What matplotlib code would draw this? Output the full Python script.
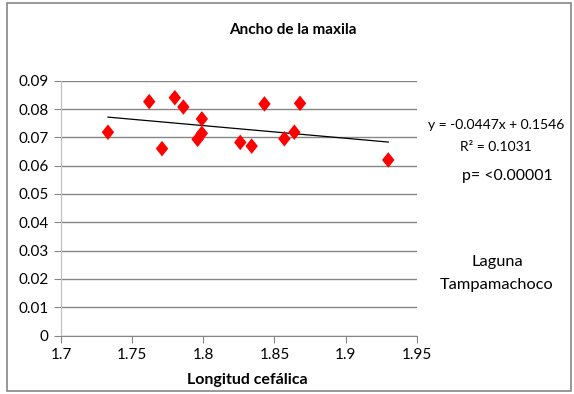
import numpy as np
import matplotlib
matplotlib.use("Agg")
import matplotlib.pyplot as plt
from matplotlib.path import Path
from matplotlib.patches import Rectangle

# Data
longitud = [1.733, 1.762, 1.771, 1.780, 1.786, 1.799, 1.799, 1.796,
            1.826, 1.834, 1.843, 1.857, 1.864, 1.868, 1.930]
ancho = [0.0718, 0.0826, 0.0660, 0.0840, 0.0807, 0.0765, 0.0714, 0.0693,
         0.0682, 0.0669, 0.0818, 0.0695, 0.0718, 0.0820, 0.0620]
slope = -0.0447
intercept = 0.1546
r2 = 0.1031

plt.rcParams['font.family'] = ['Lato', 'DejaVu Sans']

fig = plt.figure(figsize=(5.74, 3.94), dpi=100)
ax = fig.add_axes([61 / 574, 58.5 / 394, 355.7 / 574, 254.8 / 394])

# outer chart border
fig.patches.append(Rectangle((7 / 574, 3 / 394), 564 / 574, 388 / 394,
                             transform=fig.transFigure, fill=False,
                             edgecolor='#868686', linewidth=1.2))

diamond = Path([(0, 1), (0.8, 0), (0, -1), (-0.8, 0), (0, 1)],
               [Path.MOVETO, Path.LINETO, Path.LINETO, Path.LINETO, Path.CLOSEPOLY])

ax.scatter(longitud, ancho, marker=diamond, s=125, color='#ff0000',
           edgecolors='none', zorder=3)

xs = np.array([min(longitud), max(longitud)])
ax.plot(xs, slope * xs + intercept, color='black', linewidth=0.9, zorder=2)

ax.set_xlim(1.7, 1.95)
ax.set_ylim(0, 0.09)
ax.set_xticks([1.7, 1.75, 1.8, 1.85, 1.9, 1.95])
ax.set_xticklabels(['1.7', '1.75', '1.8', '1.85', '1.9', '1.95'])
ax.set_yticks(np.arange(0, 0.091, 0.01))
ax.set_yticklabels(['0', '0.01', '0.02', '0.03', '0.04', '0.05', '0.06',
                    '0.07', '0.08', '0.09'])
ax.yaxis.grid(True, color='#868686', linewidth=1.0)
ax.set_axisbelow(True)
for s in ['top', 'right']:
    ax.spines[s].set_visible(False)
ax.spines['left'].set_color('#bdbdbd')
ax.spines['bottom'].set_color('#868686')
ax.tick_params(axis='y', length=5, color='#868686', labelsize=11, pad=4)
ax.tick_params(axis='x', length=5, color='#868686', labelsize=11, pad=4)

fig.text(293 / 574, 1 - 30 / 394, 'Ancho de la maxila', ha='center',
         va='center', fontsize=11, fontweight='bold')
fig.text(247 / 574, 1 - 380 / 394, 'Longitud cefálica', ha='center',
         va='center', fontsize=11.5, fontweight='bold')

fig.text(496 / 574, 1 - 125 / 394, 'y = -0.0447x + 0.1546', ha='center',
         va='center', fontsize=10)
fig.text(496 / 574, 1 - 147 / 394, 'R² = %.4f' % r2, ha='center',
         va='center', fontsize=10)
fig.text(507 / 574, 1 - 176 / 394, 'p= <0.00001', ha='center',
         va='center', fontsize=11.4)
fig.text(497 / 574, 1 - 262 / 394, 'Laguna', ha='center', va='center',
         fontsize=11.8)
fig.text(497 / 574, 1 - 285 / 394, 'Tampamachoco', ha='center',
         va='center', fontsize=11.8)

fig.savefig('out.png', dpi=100)
